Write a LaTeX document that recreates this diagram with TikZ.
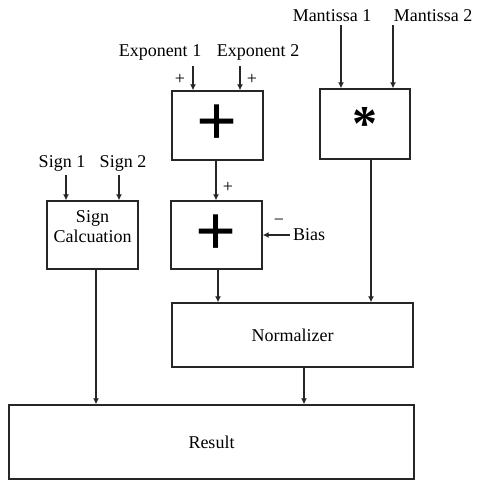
\documentclass[tikz,border=0pt]{standalone}
\usepackage{fontspec}
\setmainfont{Liberation Serif}
\usetikzlibrary{shapes,arrows.meta,positioning}
\tikzstyle{unitbox}  = [rectangle, draw, line width=1.4pt, inner sep=0pt]
\tikzstyle{opbox}    = [unitbox, minimum width=91pt, minimum height=69pt]
\tikzstyle{wide}     = [unitbox, minimum height=64pt]
\tikzstyle{lbl}      = [inner sep=0pt, font=\fontsize{18}{20}\selectfont]
\tikzstyle{sgn}      = [inner sep=0pt, font=\fontsize{18}{18}\selectfont]
\tikzstyle{line}     = [draw, line width=1.4pt, -{Latex[length=6pt,width=6pt]}]

\begin{document}
\begin{tikzpicture}[x=1pt, y=-1pt, color={black!85}, text=black]
        \useasboundingbox (0,0) rectangle (477,482);
        % operation boxes
        \node [opbox] (expadd) at (217.5,125.5) {\fontsize{72}{72}\selectfont\bfseries +};
        \node [opbox, minimum width=90pt, minimum height=70pt] (mult) at (365,124) {\raisebox{-17pt}{\fontsize{50}{50}\selectfont\bfseries *}};
        \node [opbox, minimum height=68pt] (sign) at (92.5,235) {};
        \node [lbl, align=center, below=10pt of sign.north] (signtxt) {Sign\\[0pt]Calcuation};
        \node [opbox, minimum height=68pt] (bias) at (216.5,235) {\fontsize{72}{72}\selectfont\bfseries +};
        \node [wide, minimum width=241pt] (norm) at (292.5,335) {\fontsize{18}{20}\selectfont Normalizer};
        \node [wide, minimum width=405pt, minimum height=74pt] (result) at (211.5,442) {\fontsize{18}{20}\selectfont Result};

        % input labels
        \node [lbl] (exp1) at (160,52) {Exponent 1};
        \node [lbl] (exp2) at (258,52) {Exponent 2};
        \node [lbl] (man1) at (332,16) {Mantissa 1};
        \node [lbl] (man2) at (433,16) {Mantissa 2};
        \node [lbl] (sign1) at (62,163) {Sign 1};
        \node [lbl] (sign2) at (123,163) {Sign 2};
        \node [lbl, anchor=west] (biasin) at (293,235) {Bias};

        % sign marks
        \node [sgn] (p1) at (180,79) {+};
        \node [sgn] (p2) at (252,79) {+};
        \node [sgn] (p3) at (228,187) {+};
        \node [sgn] (m1) at (279,222) {\textminus};

        % arrow starts
        \coordinate (e1) at (193,66);
        \coordinate (e2) at (240,66);
        \coordinate (t1) at (341,25);
        \coordinate (t2) at (393,25);
        \coordinate (s1) at (66,175);
        \coordinate (s2) at (119,175);

        \path [line] (e1) -- (e1 |- expadd.north);
        \path [line] (e2) -- (e2 |- expadd.north);
        \path [line] (t1) -- (t1 |- mult.north);
        \path [line] (t2) -- (t2 |- mult.north);
        \path [line] (s1) -- (s1 |- sign.north);
        \path [line] (s2) -- (s2 |- sign.north);
        \path [line] ([xshift=-0.5pt]expadd.south -| bias.north) -- ([xshift=-0.5pt]bias.north);
        \path [line] ([xshift=-3pt]biasin.west) -- (bias.east);
        \path [line] ([xshift=1.5pt]bias.south) -- ([xshift=1.5pt]bias.south |- norm.north);
        \path [line] ([xshift=6pt]mult.south) -- ([xshift=6pt]mult.south |- norm.north);
        \path [line] ([xshift=3.5pt]sign.south) -- ([xshift=3.5pt]sign.south |- result.north);
        \path [line] ([xshift=11.5pt]norm.south) -- ([xshift=11.5pt]norm.south |- result.north);
      \end{tikzpicture}
\end{document}
